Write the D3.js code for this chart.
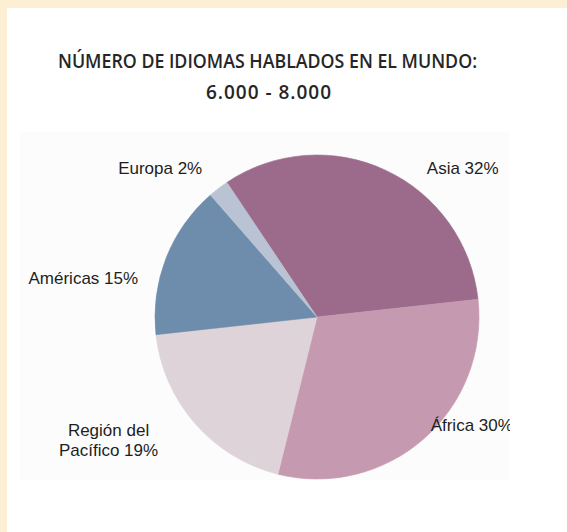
<!DOCTYPE html>
<html>
<head>
<meta charset="utf-8">
<script src="https://cdn.jsdelivr.net/npm/d3@7"></script>
<style>
  html, body { margin: 0; padding: 0; background: #fdefd4; }
  svg { display: block; }
</style>
</head>
<body>
<div id="chart"></div>
<script>
// Idiomas hablados por región (porcentaje del total)
const regions = ["Asia", "África", "Región del Pacífico", "Américas", "Europa"];
const shares = [32, 30, 19, 15, 2];
const labelLines = [
  ["Asia 32%"],
  ["África 30%"],
  ["Región del", "Pacífico 19%"],
  ["Américas 15%"],
  ["Europa 2%"]
];
const sliceColors = ["#9c6b8b", "#c599b0", "#ded3d9", "#6e8cab", "#b9c3d3"];
// posición de etiquetas: ángulo (grados, desde las 12 en sentido horario) y radio
const labelAngle = [45.6, 126.3, 240.3, 278.0, 312.3];
const labelRadius = [204, 192, 240, 236, 212];

const titleLines = ["NÚMERO DE IDIOMAS HABLADOS EN EL MUNDO:", "6.000 - 8.000"];

const width = 567, height = 532;
const cx = 317, cy = 317, radius = 162;
const startDeg = -33.8;

const svg = d3.select("#chart")
  .append("svg")
  .attr("width", width)
  .attr("height", height);

// marco crema + panel blanco
svg.append("rect").attr("width", width).attr("height", height).attr("fill", "#fdefd4");
svg.append("rect").attr("x", 7).attr("y", 8).attr("width", width - 7).attr("height", height - 8).attr("fill", "#ffffff");
svg.append("rect").attr("x", 20).attr("y", 132).attr("width", 490).attr("height", 348).attr("fill", "#fcfcfc");

// título
const title = svg.append("g")
  .attr("font-family", "'Open Sans', 'DejaVu Sans', sans-serif")
  .attr("font-weight", 600)
  .attr("font-size", 19)
  .attr("fill", "#262626")
  .attr("text-anchor", "middle");

title.append("text")
  .attr("x", 267.5).attr("y", 68)
  .attr("textLength", 419)
  .attr("lengthAdjust", "spacingAndGlyphs")
  .text(titleLines[0]);
title.append("text")
  .attr("x", 268.5).attr("y", 99)
  .attr("textLength", 125)
  .attr("lengthAdjust", "spacing")
  .text(titleLines[1]);

// tarta
const start = startDeg * Math.PI / 180;
const pie = d3.pie()
  .sort(null)
  .value(d => d)
  .startAngle(start)
  .endAngle(start + 2 * Math.PI);

const arc = d3.arc().innerRadius(0).outerRadius(radius);
const color = d3.scaleOrdinal().domain(regions).range(sliceColors);

const g = svg.append("g").attr("transform", `translate(${cx},${cy})`);

g.selectAll("path")
  .data(pie(shares))
  .join("path")
  .attr("d", arc)
  .attr("fill", (d, i) => color(regions[i]))
  .attr("stroke", (d, i) => color(regions[i]))
  .attr("stroke-width", 0.6);

// etiquetas (recortadas al borde de la imagen original)
svg.append("clipPath").attr("id", "imgclip")
  .append("rect").attr("x", 0).attr("y", 0).attr("width", 510).attr("height", height);

const labels = svg.append("g")
  .attr("clip-path", "url(#imgclip)")
  .attr("font-family", "'Liberation Sans', Arial, Helvetica, sans-serif")
  .attr("font-size", 17)
  .attr("fill", "#1e1e1e")
  .attr("text-anchor", "middle");

regions.forEach((r, i) => {
  const [px, py] = d3.pointRadial(labelAngle[i] * Math.PI / 180, labelRadius[i]);
  labelLines[i].forEach((line, j) => {
    labels.append("text")
      .attr("x", cx + px)
      .attr("y", cy + py + j * 19.8)
      .text(line);
  });
});
</script>
</body>
</html>
